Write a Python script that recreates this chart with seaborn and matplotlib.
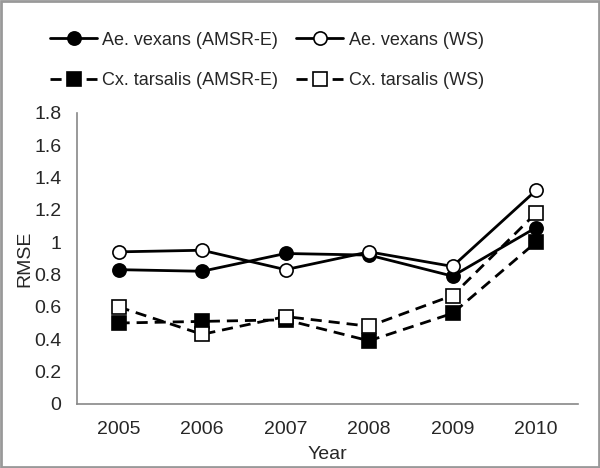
import pandas as pd
import matplotlib.pyplot as plt
import seaborn as sns
from matplotlib.patches import Rectangle
from matplotlib.ticker import FixedLocator, FuncFormatter

sns.set_style("white")
plt.rcParams["font.family"] = ["Liberation Sans", "DejaVu Sans"]

# --------------------------------------------------
# Data
# --------------------------------------------------

years = [2005, 2006, 2007, 2008, 2009, 2010]

ae_amsr = [0.83, 0.82, 0.93, 0.92, 0.79, 1.09]
ae_ws = [0.94, 0.95, 0.83, 0.94, 0.85, 1.32]
cx_amsr = [0.50, 0.51, 0.52, 0.39, 0.56, 1.00]
cx_ws = [0.60, 0.43, 0.54, 0.48, 0.67, 1.18]

series = [
    ("Ae. vexans (AMSR-E)", ae_amsr, "o", "black", "-"),
    ("Ae. vexans (WS)", ae_ws, "o", "white", "-"),
    ("Cx. tarsalis (AMSR-E)", cx_amsr, "s", "black", "--"),
    ("Cx. tarsalis (WS)", cx_ws, "s", "white", "--"),
]

# --------------------------------------------------
# Plot
# --------------------------------------------------

fig = plt.figure(figsize=(6, 4.68), dpi=100)
ax = fig.add_axes([0.128, 0.137, 0.835, 0.622])

for label, vals, marker, face, ls in series:
    df = pd.DataFrame({"Year": years, "RMSE": vals})
    sns.lineplot(
        data=df, x="Year", y="RMSE", ax=ax,
        color="black", linewidth=2.0, linestyle=ls,
        marker=marker, markersize=9.5,
        markerfacecolor=face, markeredgecolor="black", markeredgewidth=1.2,
        label=label,
    )
    if ls == "--":
        ax.lines[-1].set_dashes((4, 2.5))

ax.set_xlim(2004.5, 2010.5)
ax.set_ylim(0, 1.8)
ax.set_xticks(years)
ax.xaxis.set_minor_locator(FixedLocator([y - 0.5 for y in years] + [2010.5]))
ax.tick_params(axis="x", which="major", length=0, pad=12, labelsize=14)
ax.tick_params(axis="x", which="minor", length=5, color="#888888", width=1, direction="out")
ax.set_yticks([i * 0.2 for i in range(10)])
ax.yaxis.set_major_formatter(FuncFormatter(lambda v, p: "%g" % round(v, 1)))
ax.tick_params(axis="y", length=4, color="#888888", width=1, direction="out",
               labelsize=14, pad=7)

for s in ["top", "right"]:
    ax.spines[s].set_visible(False)
for s in ["left", "bottom"]:
    ax.spines[s].set_color("#888888")
    ax.spines[s].set_linewidth(1.2)

ax.set_xlabel("Year", fontsize=14, labelpad=6)
ax.set_ylabel("RMSE", fontsize=14, labelpad=1)

handles, labels = ax.get_legend_handles_labels()
ax.get_legend().remove()
order = [0, 2, 1, 3]  # row-wise like the reference
fig.legend(
    [handles[i] for i in order], [labels[i] for i in order],
    loc="upper center", bbox_to_anchor=(0.445, 0.967),
    ncol=2, frameon=False, fontsize=13, handlelength=2.6,
    columnspacing=1.0, handletextpad=0.3, labelspacing=1.3,
)

fig.patches.append(Rectangle((0.002, 0.002), 0.996, 0.996, transform=fig.transFigure,
                             fill=False, edgecolor="#999999", linewidth=2))

plt.savefig("out.png", dpi=100)
plt.close()
